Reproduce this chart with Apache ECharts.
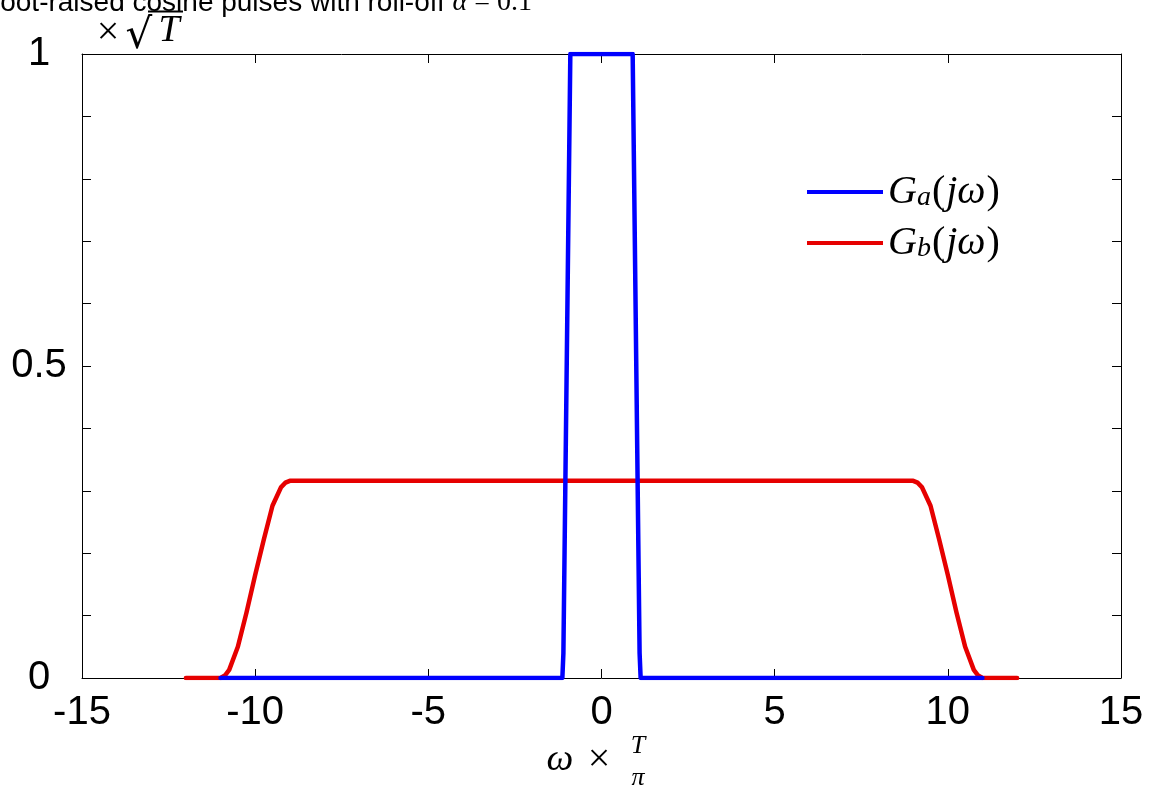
<!DOCTYPE html>
<html><head><meta charset="utf-8">
<script src="https://cdn.jsdelivr.net/npm/echarts@6/dist/echarts.min.js"></script>
<style>html,body{margin:0;padding:0;background:#fff}#c{width:1149px;height:785px}</style>
</head><body><div id="c"></div>
<script>
// ---- data ----
const xTicks = [-15, -10, -5, 0, 5, 10, 15];
const yTickLabels = ['0', '0.5', '1'];
const yTickLabelValues = [0, 0.5, 1];
const seriesNames = ['Ga', 'Gb'];
const gaW = [-11, -1.13, -1.1, -0.9, 0.9, 1.1, 1.13, 11];
const gaV = [0, 0, 0.04, 1, 1, 0.04, 0, 0];
const gbW = [-12, -11, -10.875, -10.75, -10.5, -10.25, -10, -9.75, -9.5, -9.25, -9.125, -9, 9, 9.125, 9.25, 9.5, 9.75, 10, 10.25, 10.5, 10.75, 10.875, 11, 12];
const gbV = [0, 0, 0.004, 0.013, 0.05, 0.105, 0.165, 0.222, 0.276, 0.306, 0.313, 0.316, 0.316, 0.313, 0.306, 0.276, 0.222, 0.165, 0.105, 0.05, 0.013, 0.004, 0, 0];

const chart = echarts.init(document.getElementById('c'), null, {renderer: 'canvas'});
const sans = 'Liberation Sans';
const serif = 'Liberation Serif';
const axisLineStyle = {color: '#000', width: 1};
function yFmt(v) {
  for (let i = 0; i < yTickLabelValues.length; i++) {
    if (Math.abs(v - yTickLabelValues[i]) < 1e-9) return yTickLabels[i];
  }
  return '';
}
const legendRich = {
  i: {fontFamily: serif, fontStyle: 'italic', fontSize: 40, lineHeight: 40, color: '#000'},
  r: {fontFamily: serif, fontSize: 40, lineHeight: 40, color: '#000', padding: [0, 1, 0, 1]},
  s: {fontFamily: serif, fontStyle: 'italic', fontSize: 28, lineHeight: 24, verticalAlign: 'bottom', color: '#000'}
};
const option = {
  backgroundColor: '#fff',
  animation: false,
  grid: {left: 82, right: 28, top: 54, bottom: 107, containLabel: false},
  xAxis: [{
    type: 'value', min: xTicks[0], max: xTicks[xTicks.length - 1], interval: 5, position: 'bottom',
    axisLine: {show: true, onZero: false, lineStyle: axisLineStyle},
    axisTick: {show: true, inside: true, length: 9, lineStyle: axisLineStyle},
    axisLabel: {fontSize: 40, fontFamily: sans, color: '#000', margin: 15},
    splitLine: {show: false}
  }, {
    type: 'value', min: xTicks[0], max: xTicks[xTicks.length - 1], interval: 5, position: 'top',
    axisLine: {show: true, onZero: false, lineStyle: axisLineStyle},
    axisTick: {show: true, inside: true, length: 9, lineStyle: axisLineStyle},
    axisLabel: {show: false}, splitLine: {show: false}
  }],
  yAxis: [{
    type: 'value', min: 0, max: 1, interval: 0.1, position: 'left',
    axisLine: {show: true, onZero: false, lineStyle: axisLineStyle},
    axisTick: {show: true, inside: true, length: 9, lineStyle: axisLineStyle},
    axisLabel: {fontSize: 40, fontFamily: sans, color: '#000', margin: 43, align: 'center', formatter: yFmt},
    splitLine: {show: false}
  }, {
    type: 'value', min: 0, max: 1, interval: 0.1, position: 'right',
    axisLine: {show: true, onZero: false, lineStyle: axisLineStyle},
    axisTick: {show: true, inside: true, length: 9, lineStyle: axisLineStyle},
    axisLabel: {show: false}, splitLine: {show: false}
  }],
  legend: {
    orient: 'vertical', left: 807, top: 172, padding: 0, icon: 'rect', itemWidth: 76, itemHeight: 4, itemGap: 11,
    data: seriesNames,
    textStyle: {rich: legendRich},
    formatter: function (n) {
      return n === 'Ga' ? '{i|G}{s|a}{r|(}{i|jω}{r|)}' : '{i|G}{s|b}{r|(}{i|jω}{r|)}';
    }
  },
  series: [{
    name: 'Gb', type: 'line', z: 2, showSymbol: false, smooth: false,
    data: gbW.map((w, i) => [w, gbV[i]]),
    lineStyle: {color: '#e60000', width: 4.5, cap: 'round', join: 'round'},
    itemStyle: {color: '#e60000'}
  }, {
    name: 'Ga', type: 'line', z: 3, showSymbol: false,
    data: gaW.map((w, i) => [w, gaV[i]]),
    lineStyle: {color: '#0000ff', width: 4.5, cap: 'round', join: 'round'},
    itemStyle: {color: '#0000ff'}
  }],
  graphic: [
    {type: 'text', x: -20, y: -11, style: {
      text: '{a|Root-raised cosine pulses with roll-off }{i|α}{r| = 0.1}',
      verticalAlign: 'top',
      rich: {
        a: {fontFamily: sans, fontSize: 28, lineHeight: 28, color: '#000'},
        i: {fontFamily: serif, fontStyle: 'italic', fontSize: 28, lineHeight: 28, color: '#000'},
        r: {fontFamily: serif, fontSize: 28, lineHeight: 28, color: '#000'}
      }}},
    {type: 'text', x: 108, y: 33, style: {text: '×', font: '40px "Liberation Serif"', fill: '#000', align: 'center', verticalAlign: 'middle'}},
    {type: 'text', x: 139, y: 37, style: {text: '√', font: '42px "DejaVu Serif"', fill: '#000', align: 'center', verticalAlign: 'middle'}},
    {type: 'line', shape: {x1: 148, y1: 11.5, x2: 183, y2: 11.5}, style: {stroke: '#000', lineWidth: 1.8}},
    {type: 'text', x: 169, y: 31, style: {text: 'T', font: 'italic 38px "Liberation Serif"', fill: '#000', align: 'center', verticalAlign: 'middle'}},
    {type: 'text', x: 560, y: 760, style: {text: 'ω', font: 'italic 38px "Liberation Serif"', fill: '#000', align: 'center', verticalAlign: 'middle'}},
    {type: 'text', x: 599, y: 760, style: {text: '×', font: '40px "Liberation Serif"', fill: '#000', align: 'center', verticalAlign: 'middle'}},
    {type: 'text', x: 638, y: 746, style: {text: 'T', font: 'italic 26px "Liberation Serif"', fill: '#000', align: 'center', verticalAlign: 'middle'}},
    {type: 'text', x: 638, y: 778, style: {text: 'π', font: 'italic 26px "Liberation Serif"', fill: '#000', align: 'center', verticalAlign: 'middle'}}
  ]
};
chart.setOption(option);
</script>
</body></html>
